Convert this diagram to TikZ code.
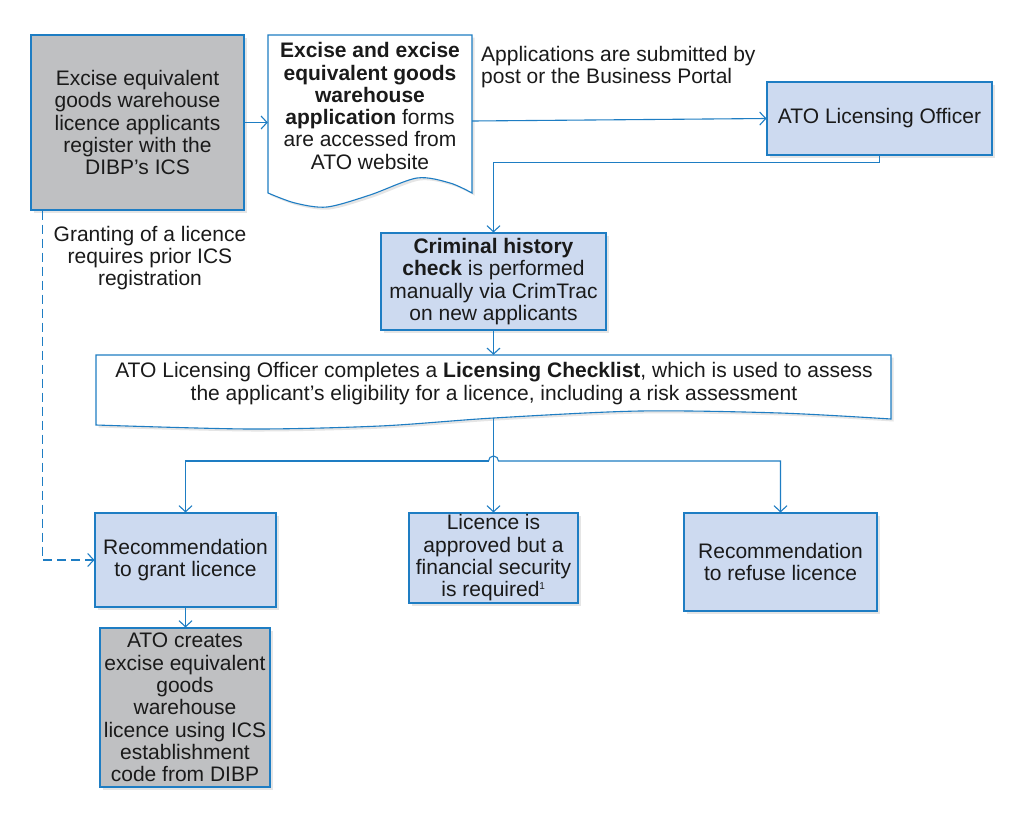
\documentclass[tikz,border=0pt]{standalone}
\usepackage{fontspec}
\setmainfont{Liberation Sans}
\usetikzlibrary{arrows.meta,shadows,calc}
\definecolor{bord}{RGB}{30,125,195}
\definecolor{lblue}{RGB}{205,218,240}
\definecolor{lgray}{RGB}{191,192,194}
\definecolor{txt}{RGB}{26,26,26}
\begin{document}
\begin{tikzpicture}[x=1pt,y=-1pt,
  font=\fontsize{21}{22.3}\selectfont, text=txt,
  shad/.style={drop shadow={shadow xshift=2.5pt,shadow yshift=-2.5pt,opacity=0.25,fill=black!40}},
  box/.style={draw=bord, line width=1.1pt, inner sep=0pt, align=center, shad},
  bluebox/.style={box, fill=lblue},
  graybox/.style={box, fill=lgray},
  conn/.style={draw=bord, line width=1.1pt},
  arr/.style={conn, -{Straight Barb[length=6pt,width=13pt]}},
  lbl/.style={inner sep=0pt, align=center}
]
\useasboundingbox[fill=white] (0,0) rectangle (1025,825);

% document shapes
\path[draw=bord, line width=1.1pt, fill=white, shad]
  (268,193) -- (268,35) -- (472,35) -- (472,193)
  -- plot[smooth] coordinates {(472,193) (450,183) (417,178) (370,195) (327,207) (295,203) (268,193)} -- cycle;
\path[draw=bord, line width=1.1pt, fill=white, shad]
  (96,425) -- (96,355) -- (891,355) -- (891,419)
  -- plot[smooth] coordinates {(891,419) (780,413) (640,411) (493.5,418) (380,426) (250,429) (96,425)} -- cycle;

\node[minimum width=204pt, minimum height=172pt, inner sep=0pt] (B) at (370,121) {};
\node[lbl] (Btext) at (370,106) {\textbf{Excise and excise}\\\textbf{equivalent goods}\\\textbf{warehouse}\\\textbf{application} forms\\are accessed from\\ATO website};

\node[minimum width=795pt, minimum height=70pt, inner sep=0pt] (E) at (493.5,390) {};
\node[lbl] (Etext) at (494,383.5) {ATO Licensing Officer completes a \textbf{Licensing Checklist}, which is used to assess\\the applicant’s eligibility for a licence, including a risk assessment};

% boxes
\node[graybox, minimum width=213pt, minimum height=175pt] (A) at (137.5,122.5)
  {Excise equivalent\\goods warehouse\\licence applicants\\register with the\\DIBP’s ICS};
\node[bluebox, minimum width=225pt, minimum height=73pt] (C) at (879.5,118.5)
  {ATO Licensing Officer};
\node[bluebox, minimum width=225pt, minimum height=97pt] (D) at (493.5,281.5)
  {\textbf{Criminal history}\\\textbf{check} is performed\\manually via CrimTrac\\on new applicants};
\node[bluebox, minimum width=181pt, minimum height=94pt] (F) at (185.5,560)
  {Recommendation\\to grant licence};
\node[bluebox, minimum width=169pt, minimum height=90pt] (G) at (493.5,558)
  {Licence is\\approved but a\\financial security\\is required\textsuperscript{\fontsize{10}{10}\selectfont 1}};
\node[bluebox, minimum width=193pt, minimum height=98pt] (H) at (780.5,562)
  {Recommendation\\to refuse licence};
\node[graybox, minimum width=170pt, minimum height=159pt] (I) at (185,707.5)
  {ATO creates\\excise equivalent\\goods\\warehouse\\licence using ICS\\establishment\\code from DIBP};

% labels
\node[lbl, align=left, anchor=north west] (L1) at (481,46)
  {Applications are submitted by\\post or the Business Portal};
\node[lbl] (L2) at (150,258) {Granting of a licence\\requires prior ICS\\registration};

% connectors
\draw[arr] (A.east) -- (A.east -| B.west);
\draw[arr] (B.east) -- (C.west);
\draw[arr] (C.south) -- ++(0,7) -| (D.north);
\draw[arr] (D.south) -- (E.north);
\coordinate (Eb) at (493.5,418);
\draw[arr] (Eb) -- (G.north);
\coordinate (j) at (493.5,461);
\draw[arr] ($(j)+(-5,0)$) -| (F.north);
\draw[arr] ($(j)+(-5,0)$) arc[start angle=180,end angle=0,radius=5pt] -| (H.north);
\draw[arr, dash pattern=on 9pt off 5pt] ($(A.south west)+(12,0)$) |- (F.west);
\draw[arr] (F.south) -- (F.south |- I.north);
\end{tikzpicture}
\end{document}
